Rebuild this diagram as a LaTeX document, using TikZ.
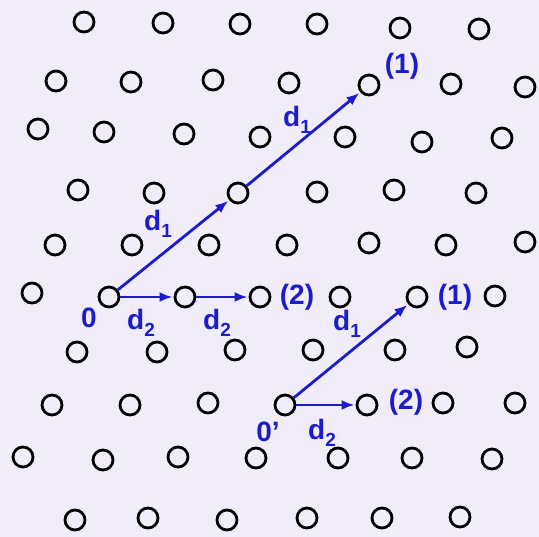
\documentclass[tikz,border=0pt]{standalone}
\usepackage{fontspec}
\setmainfont{Liberation Sans}
\usetikzlibrary{arrows.meta}
\definecolor{bg}{RGB}{240,236,248}
\definecolor{pen}{RGB}{28,28,205}
\newcommand{\vsub}[1]{{\fontsize{19}{19}\selectfont\raisebox{-7pt}{#1}}}
\tikzset{
  dot/.style={circle, draw=black, line width=2.8pt, minimum size=20pt, inner sep=0pt},
  vec/.style={draw=pen, line width=2.8pt, -{Latex[length=13pt,width=10pt]}, shorten >=1pt},
  lbl/.style={text=pen, font=\bfseries\fontsize{28}{30}\selectfont, inner sep=0pt},
}
\begin{document}
\begin{tikzpicture}[x=1pt,y=-1pt]
\fill[bg] (0,0) rectangle (539,537);
\useasboundingbox (0,0) rectangle (539,537);
% special lattice points
\node[dot] (O)  at (109,297) {};
\node[dot] (A1) at (238,193) {};
\node[dot] (B1) at (369,85) {};
\node[dot] (C2) at (185,297) {};
\node[dot] (D2) at (260,297) {};
\node[dot] (Op) at (285,405) {};
\node[dot] (E1) at (417,297) {};
\node[dot] (F2) at (367,405) {};
% other lattice points
\foreach \x/\y [count=\i] in {
  84/22,163/23,240/24,317/24,400/28,479/29,
  56/81,131/82,213/80,289/83,451/84,525/87,
  38/129,104/132,184/134,260/137,345/137,422/142,502/138,
  78/190,154/193,317/192,394/190,476/193,
  55/245,132/245,209/245,287/245,369/243,446/245,525/242,
  32/293,340/297,495/296,
  77/352,157/352,235/350,313/350,395/350,467/347,
  52/405,130/405,208/403,443/403,515/403,
  23/457,103/460,178/457,256/458,338/458,412/458,492/459,
  75/520,148/518,227/520,307/518,382/518,460/517}
  \node[dot] (p\i) at (\x,\y) {};
% vectors
\draw[vec] (O) -- (A1);
\draw[vec] (A1) -- (B1);
\draw[vec] (O) -- (C2);
\draw[vec] (C2) -- (D2);
\draw[vec] (Op) -- (E1);
\draw[vec] (Op) -- (F2);
% labels
\node[lbl] (l0)  at (89,318) {0};
\node[lbl] (la)  at (158,224) {d\vsub{1}};
\node[lbl] (lb)  at (297,120) {d\vsub{1}};
\node[lbl] (lc)  at (141,323) {d\vsub{2}};
\node[lbl] (ld)  at (217,323) {d\vsub{2}};
\node[lbl] (l1)  at (402,66) {(1)};
\node[lbl] (l2)  at (297,297) {(2)};
\node[lbl] (l0p) at (268,432) {0'};
\node[lbl] (le)  at (347,324) {d\vsub{1}};
\node[lbl] (lf)  at (322,433) {d\vsub{2}};
\node[lbl] (l3)  at (455,297) {(1)};
\node[lbl] (l4)  at (406,402) {(2)};
\end{tikzpicture}
\end{document}
